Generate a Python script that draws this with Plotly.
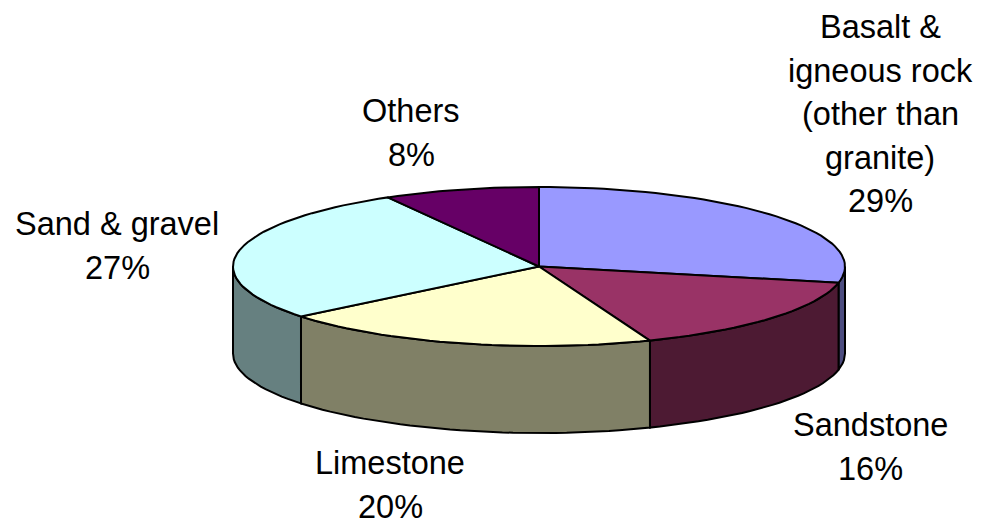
import numpy as np
import plotly.graph_objects as go

categories = ["Basalt & igneous rock (other than granite)", "Sandstone", "Limestone", "Sand & gravel", "Others"]
values = [29, 16, 20, 27, 8]
top_colors = ["#9999FF", "#993366", "#FFFFCC", "#CCFFFF", "#660066"]
wall_colors = ["#4D4D80", "#4D1A33", "#808066", "#668080", "#330033"]
label_lines = [
    ["Basalt &", "igneous rock", "(other than", "granite)"],
    ["Sandstone"],
    ["Limestone"],
    ["Sand & gravel"],
    ["Others"],
]
label_x = [880, 870, 390, 117, 411]
label_y0 = [27, 425, 463, 224, 111]

CX, CY, RX, RY, DEPTH = 539, 266.5, 306, 79.5, 87
LINE_H = 43.5
FONT = "Liberation Sans, Arial, sans-serif"


def arc(t1, t2):
    n = max(2, int(abs(t2 - t1) / 2) + 1)
    t = np.radians(np.linspace(t1, t2, n))
    return CX + RX * np.sin(t), CY - RY * np.cos(t)


# the tilted view pulls the slice boundaries slightly back from their true angle
raw = np.concatenate([[0], np.cumsum(values)]) * 360 / sum(values)
edges = raw - 3.3 * np.sin(np.radians(raw / 2))
fig = go.Figure()


def poly(x, y, color):
    fig.add_trace(go.Scatter(
        x=list(x), y=list(y), mode="lines", fill="toself", fillcolor=color,
        line=dict(color="black", width=2), hoverinfo="skip", showlegend=False,
    ))


# side walls: only the front half of the rim is visible
for i in range(len(values)):
    t1, t2 = max(edges[i], 90), min(edges[i + 1], 270)
    if t2 <= t1:
        continue
    ax, ay = arc(t1, t2)
    poly(np.r_[ax, ax[::-1], ax[0]], np.r_[ay, ay[::-1] + DEPTH, ay[0]], wall_colors[i])

# top faces
for i in range(len(values)):
    ax, ay = arc(edges[i], edges[i + 1])
    poly(np.r_[CX, ax, CX], np.r_[CY, ay, CY], top_colors[i])

annotations = []
for i, lines in enumerate(label_lines):
    all_lines = lines + [f"{values[i]}%"]
    for j, s in enumerate(all_lines):
        annotations.append(dict(
            x=label_x[i], y=label_y0[i] + j * LINE_H, text=s, showarrow=False,
            xanchor="center", yanchor="middle",
            font=dict(family=FONT, size=32.5, color="black"),
        ))

fig.update_layout(
    width=984, height=521, margin=dict(l=0, r=0, t=0, b=0),
    paper_bgcolor="white", plot_bgcolor="white", showlegend=False,
    xaxis=dict(range=[0, 984], visible=False, fixedrange=True),
    yaxis=dict(range=[521, 0], visible=False, fixedrange=True),
    annotations=annotations,
)
fig.write_html("out.html", config=dict(displayModeBar=False),
               post_script="document.body.style.margin='0';document.body.style.overflow='hidden';")
